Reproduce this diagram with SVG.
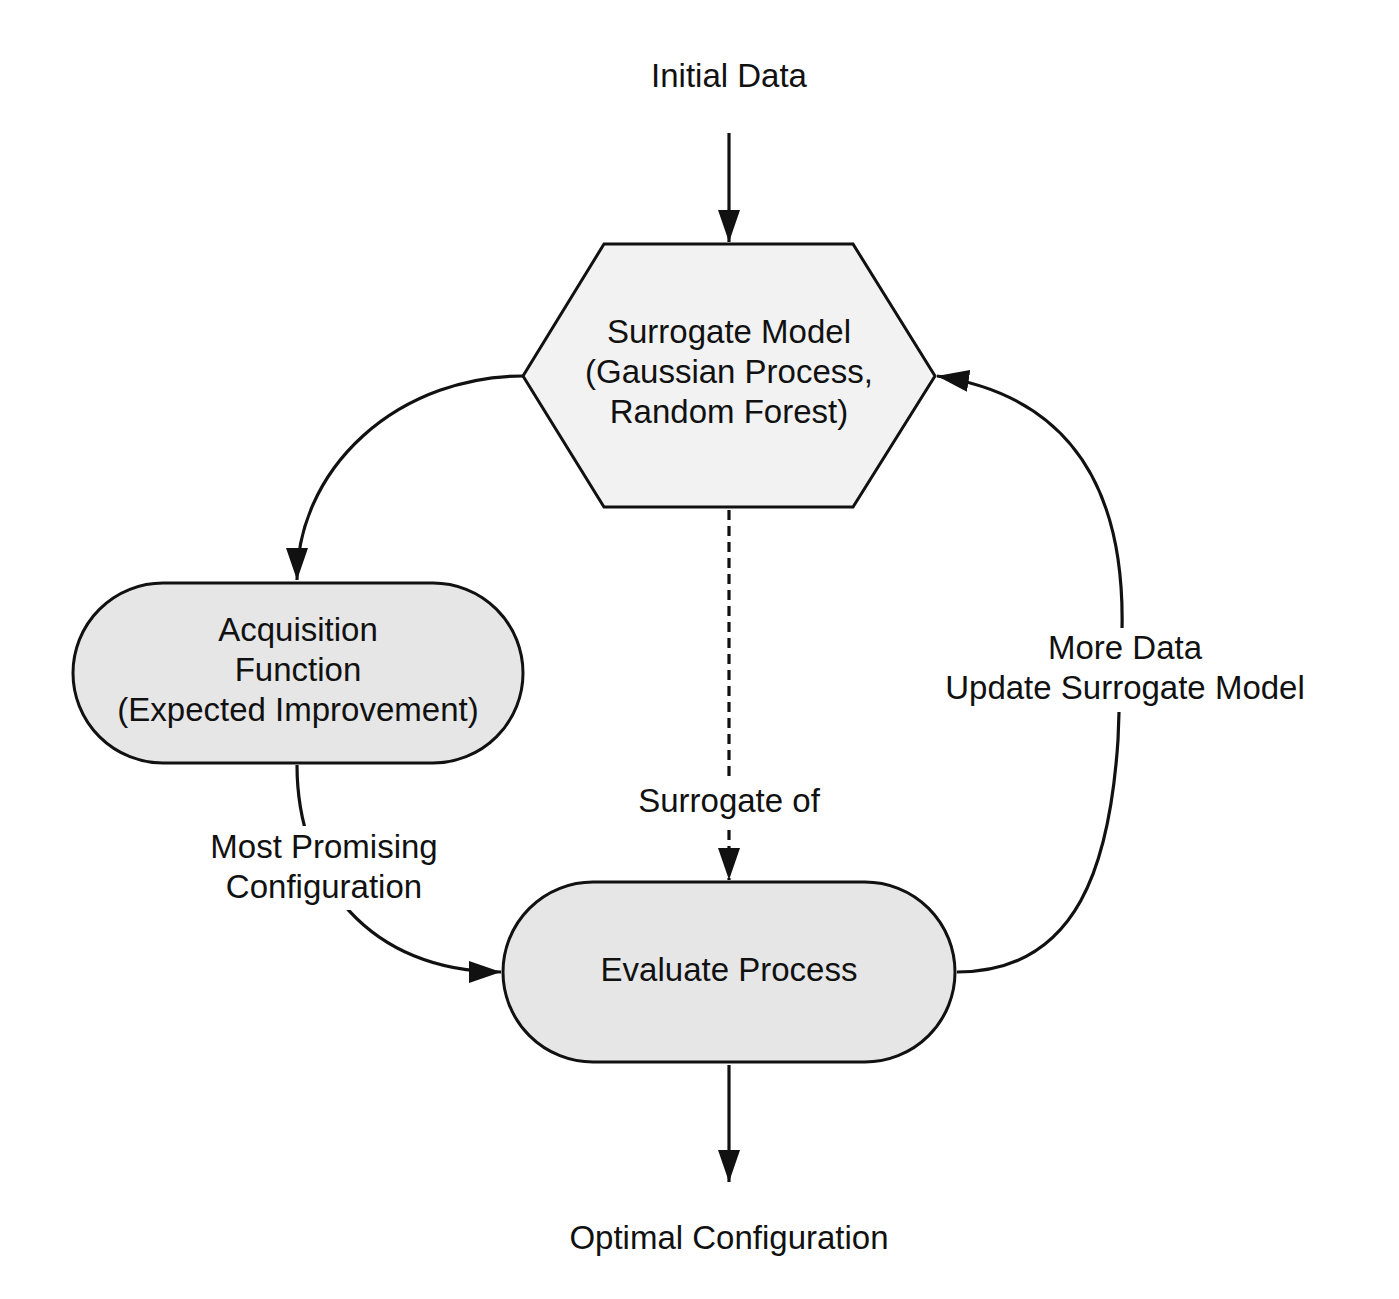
<svg xmlns="http://www.w3.org/2000/svg" width="1399" height="1299" viewBox="0 0 1399 1299">
<style>
text{font-family:"Liberation Sans",Arial,sans-serif;font-size:33px;fill:#111;text-anchor:middle}
.node{stroke:#111;stroke-width:3}
.edge{fill:none;stroke:#111;stroke-width:3.2}
.dash{stroke-dasharray:10 6}
.bg{fill:#fff;stroke:none}
</style>
<defs>
<marker id="ah" markerUnits="userSpaceOnUse" markerWidth="34" markerHeight="24" refX="32" refY="11" orient="auto">
<path d="M0,0 L32,11 L0,22 z" fill="#111"/>
</marker>
</defs>
<rect width="1399" height="1299" fill="#fff"/>
<g id="connectors">
<line class="edge" x1="729" y1="133" x2="729" y2="242" marker-end="url(#ah)"/>
<path class="edge" d="M523,376 A226,204 0 0 0 297,580" marker-end="url(#ah)"/>
<line class="edge dash" x1="729" y1="510" x2="729" y2="880" marker-end="url(#ah)"/>
<path class="edge" d="M297,765 C297,880 370,972 501,972" marker-end="url(#ah)"/>
<path class="edge" d="M957,972 C1080,972 1110,860 1118,740 L1122,630 C1125,495 1075,397 937,376" marker-end="url(#ah)"/>
<line class="edge" x1="729" y1="1065" x2="729" y2="1182" marker-end="url(#ah)"/>
<rect class="bg" x="205" y="826" width="240" height="84"/>
<rect class="bg" x="700" y="778" width="58" height="46"/>
<rect class="bg" x="1095" y="628" width="60" height="84"/>
<text x="324" y="858">Most Promising</text>
<text x="324" y="898">Configuration</text>
<text x="729" y="812">Surrogate of</text>
<text x="1125" y="659">More Data</text>
<text x="1125" y="699">Update Surrogate Model</text>
</g>
<g id="initial-data">
<text x="729" y="87">Initial Data</text>
</g>
<g id="surrogate-model">
<polygon class="node" points="604,244 853,244 935,376 853,507 604,507 523,376" fill="#f2f2f2"/>
<text x="729" y="343">Surrogate Model</text>
<text x="729" y="383">(Gaussian Process,</text>
<text x="729" y="423">Random Forest)</text>
</g>
<g id="acquisition-function">
<rect class="node" x="73" y="583" width="450" height="180" rx="90" ry="90" fill="#e6e6e6"/>
<text x="298" y="641">Acquisition</text>
<text x="298" y="681">Function</text>
<text x="298" y="721">(Expected Improvement)</text>
</g>
<g id="evaluate-process">
<rect class="node" x="503" y="882" width="452" height="180" rx="90" ry="90" fill="#e6e6e6"/>
<text x="729" y="981">Evaluate Process</text>
</g>
<g id="optimal-configuration">
<text x="729" y="1249">Optimal Configuration</text>
</g>
</svg>
